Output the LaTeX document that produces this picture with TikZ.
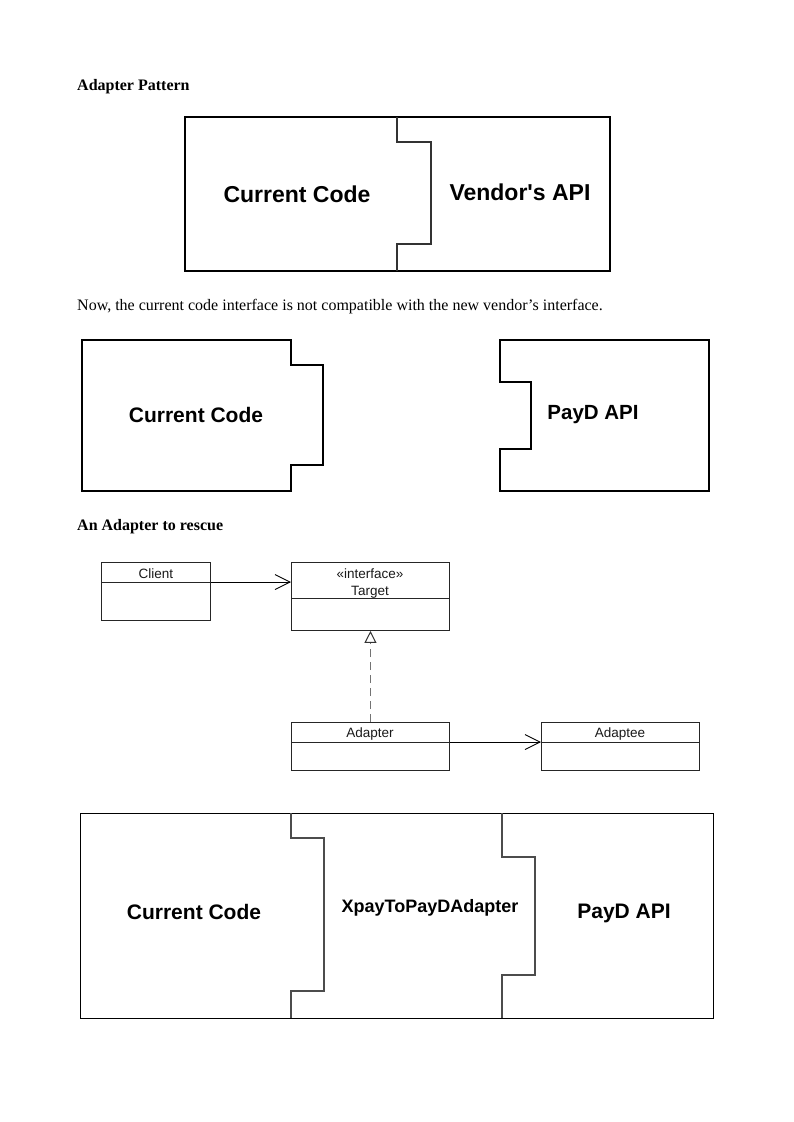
\documentclass[tikz,border=0pt]{standalone}
\usepackage{fontspec}
\setmainfont{Liberation Serif}
\setsansfont{Liberation Sans}
\usetikzlibrary{arrows.meta}
\begin{document}
\begin{tikzpicture}[x=1pt,y=-1pt,
  heading/.style={anchor=base west,inner sep=0pt,font=\fontsize{16}{18}\selectfont\bfseries},
  bodytext/.style={anchor=base west,inner sep=0pt,font=\fontsize{16}{18}\selectfont},
  comptext/.style={anchor=base,inner sep=0pt,font=\fontsize{#1}{#1}\selectfont\sffamily\bfseries},
  comptext/.default=22,
  thick box/.style={line width=2pt,black},
  notch/.style={line width=1.6pt,black!80},
  thin box/.style={line width=0.9pt,black},
  thin notch/.style={line width=1.1pt,black!70},
  umlbox/.style={draw=black!85,line width=0.9pt,anchor=north west,inner sep=0pt},
  umltext/.style={anchor=base,inner sep=0pt,font=\fontsize{13.5}{15}\selectfont\sffamily,text=black!90},
  assoc/.style={draw=black,line width=0.9pt,-{Straight Barb[length=15pt,width=15pt,line width=0.9pt]}},
  realize/.style={draw=black!55,line width=1pt,dash pattern=on 8pt off 5pt,-{Triangle[open,length=12pt,width=12pt,line width=1pt,black!80]}}
]
\useasboundingbox (0,0) rectangle (793,1122);

% ---------- Section 1 ----------
\node[heading] (h1) at (77,90) {Adapter Pattern};
\draw[thick box] (185,117) rectangle (610,271);
\draw[notch] (397,117) -- (397,142) -- (431,142) -- (431,244) -- (397,244) -- (397,271);
\node[comptext=23] (c1) at (297,202) {Current Code};
\node[comptext=23] (v1) at (520,200) {Vendor\textquotesingle s API};

\node[bodytext] (s1) at (77,310) {Now, the current code interface is not compatible with the new vendor’s interface.};

% ---------- Section 2 ----------
\draw[thick box] (82,340) -- (291,340) -- (291,365) -- (323,365) -- (323,465) -- (291,465) -- (291,491) -- (82,491) -- cycle;
\draw[thick box] (500,340) -- (709,340) -- (709,491) -- (500,491) -- (500,449) -- (531,449) -- (531,382) -- (500,382) -- cycle;
\node[comptext=21] (c2) at (196,422) {Current Code};
\node[comptext=20.5] (p2) at (593,419) {PayD API};

% ---------- Section 3 ----------
\node[heading] (h3) at (77,530) {An Adapter to rescue};

\node[umlbox,minimum width=109pt,minimum height=58pt] (client) at (101,562) {};
\draw[black!85,line width=0.9pt] ([yshift=-20pt]client.north west) -- ([yshift=-20pt]client.north east);
\node[umltext] (clientname) at (156,578) {Client};

\node[umlbox,minimum width=158pt,minimum height=68pt] (target) at (291,562) {};
\draw[black!85,line width=0.9pt] ([yshift=-36pt]target.north west) -- ([yshift=-36pt]target.north east);
\node[umltext] (targetst) at (370,578) {«interface»};
\node[umltext] (targetname) at (370,595) {Target};

\node[umlbox,minimum width=158pt,minimum height=48pt] (adapter) at (291,722) {};
\draw[black!85,line width=0.9pt] ([yshift=-20pt]adapter.north west) -- ([yshift=-20pt]adapter.north east);
\node[umltext] (adaptername) at (370,737) {Adapter};

\node[umlbox,minimum width=158pt,minimum height=48pt] (adaptee) at (541,722) {};
\draw[black!85,line width=0.9pt] ([yshift=-20pt]adaptee.north west) -- ([yshift=-20pt]adaptee.north east);
\node[umltext] (adapteename) at (620,737) {Adaptee};

\draw[assoc] ([yshift=-20pt]client.north east) -- ([yshift=-20pt]target.north west);
\draw[assoc] ([yshift=-20pt]adapter.north east) -- ([yshift=-20pt]adaptee.north west);
\draw[realize] (adapter.north) -- (target.south);

% ---------- Section 4 ----------
\draw[thin box] (80,813) rectangle (713,1018);
\draw[thin notch] (291,813) -- (291,838) -- (324,838) -- (324,991) -- (291,991) -- (291,1018);
\draw[thin notch] (502,813) -- (502,857) -- (535,857) -- (535,975) -- (502,975) -- (502,1018);
\node[comptext=21] (c4) at (194,919) {Current Code};
\node[comptext=18] (x4) at (430,912) {XpayToPayDAdapter};
\node[comptext=21] (p4) at (624,918) {PayD API};
\end{tikzpicture}
\end{document}
